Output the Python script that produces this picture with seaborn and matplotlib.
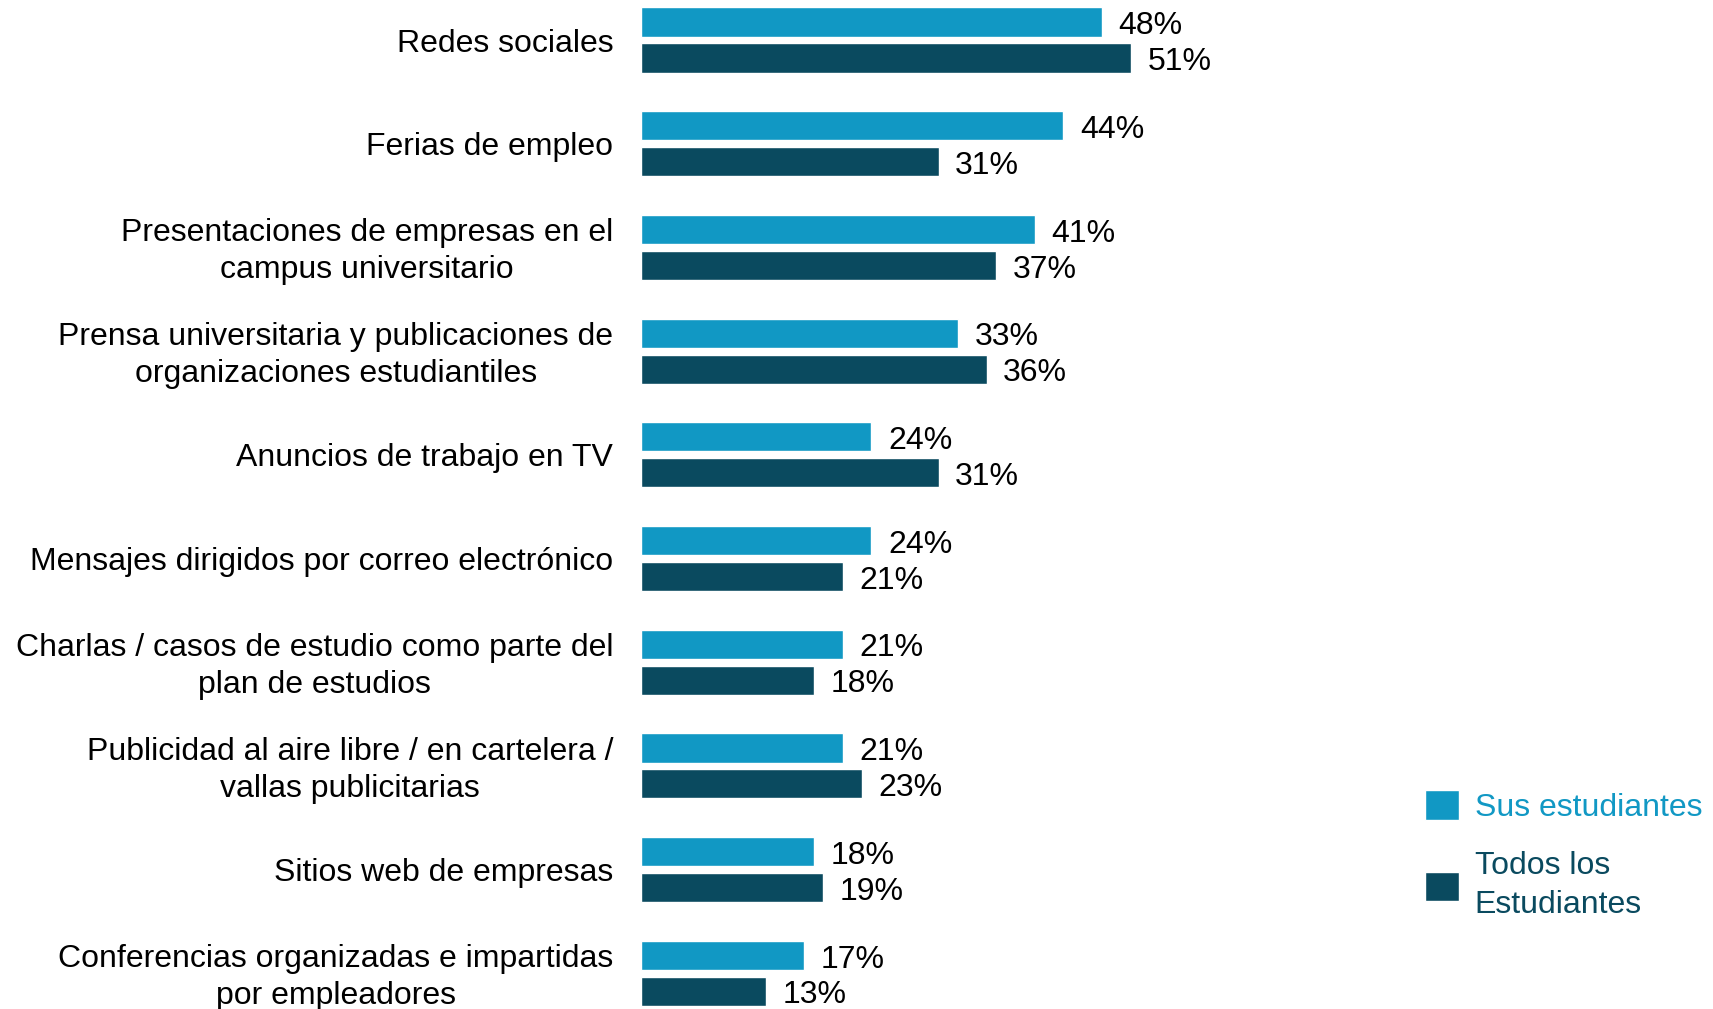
import pandas as pd
import matplotlib
matplotlib.use("Agg")
import matplotlib.pyplot as plt
import matplotlib.transforms as mtransforms
import seaborn as sns

# ── data ────────────────────────────────────────────────────────────────────────
categories = [
    "Redes sociales",
    "Ferias de empleo",
    "Presentaciones de empresas en el\ncampus universitario",
    "Prensa universitaria y publicaciones de\norganizaciones estudiantiles",
    "Anuncios de trabajo en TV",
    "Mensajes dirigidos por correo electrónico",
    "Charlas / casos de estudio como parte del\nplan de estudios",
    "Publicidad al aire libre / en cartelera /\nvallas publicitarias",
    "Sitios web de empresas",
    "Conferencias organizadas e impartidas\npor empleadores",
]
sus_estudiantes = [48, 44, 41, 33, 24, 24, 21, 21, 18, 17]
todos_estudiantes = [51, 31, 37, 36, 31, 21, 18, 23, 19, 13]
series_names = ["Sus estudiantes", "Todos los\nEstudiantes"]
colors = ["#1198C4", "#0A4A5F"]

df = pd.concat([
    pd.DataFrame({"canal": categories, "pct": sus_estudiantes, "grupo": series_names[0]}),
    pd.DataFrame({"canal": categories, "pct": todos_estudiantes, "grupo": series_names[1]}),
])

# ── plot ────────────────────────────────────────────────────────────────────────
sns.set_style("white")
plt.rcParams["font.family"] = ["Liberation Sans", "DejaVu Sans"]
FS = 23

fig = plt.figure(figsize=(17.13, 10.09), dpi=100)
ax = fig.add_axes([641 / 1713, 0, 1 - 641 / 1713, 1])

sns.barplot(data=df, y="canal", x="pct", hue="grupo", order=categories,
            hue_order=series_names, palette=colors, saturation=1, orient="h",
            width=0.694, gap=0.19, ax=ax)

# value labels, nudged a little below the bar centre like the original
for cont in ax.containers:
    for ann in ax.bar_label(cont, fmt="%d%%", padding=12, fontsize=FS, color="black"):
        ann.xyann = (12, -3)

ax.set_xlim(0, (1713 - 641) / 9.6)
ax.set_ylim(9.344, -0.386)
ax.set_xlabel("")
ax.set_ylabel("")
ax.set_xticks([])
ax.tick_params(axis="y", length=0, pad=20, labelsize=FS, labelcolor="black")
lift = mtransforms.ScaledTranslation(0, 2 / 72, fig.dpi_scale_trans)
for lbl in ax.get_yticklabels():
    lbl.set_multialignment("center")
    lbl.set_linespacing(1.31)
    if "\n" in lbl.get_text():
        lbl.set_transform(lbl.get_transform() + lift)
sns.despine(ax=ax, left=True, bottom=True)

sns.move_legend(ax, "upper left", bbox_to_anchor=(1425 / 1713, 1 - 790 / 1009),
                bbox_transform=fig.transFigure, frameon=False, title=None,
                fontsize=FS, labelcolor=colors, borderpad=0, borderaxespad=0,
                handlelength=1.05, handleheight=1.05, handletextpad=0.5,
                labelspacing=0.9)
for t in ax.get_legend().get_texts():
    t.set_linespacing(1.38)

plt.savefig("out.png", dpi=100)
